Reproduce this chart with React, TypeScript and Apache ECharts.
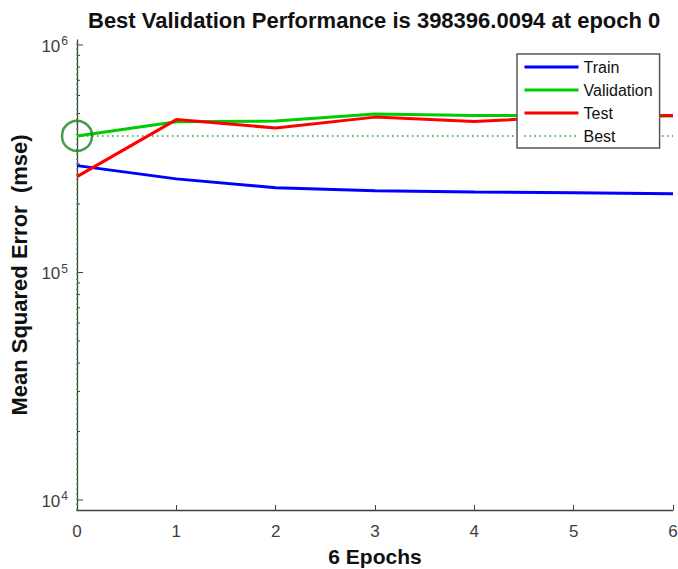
import React, { useEffect, useRef } from "react";
import * as echarts from "echarts";

// ---- Data ----
const epochs = [0, 1, 2, 3, 4, 5, 6];
const trainMse = [295000, 258000, 236000, 229000, 226000, 224000, 222000];
const validationMse = [398396, 460000, 463000, 498000, 490000, 490000, 488000];
const testMse = [264000, 470000, 432000, 482000, 461000, 485000, 490000];
const bestEpoch = 0;
const bestPerf = 398396.0094;

// ---- Axis ticks ----
const xTickInterval = 1;
const xMin = 0;
const xMax = 6;
const yMin = 9040;
const yMax = 1052000;
const yDecades = [1e4, 1e5, 1e6];
const yMinorMultipliers = [2, 3, 4, 5, 6, 7, 8, 9];

const FONT = "'Liberation Sans', Arial, Helvetica, sans-serif";
const AXIS_COLOR = "#404040";

export default function App() {
  const ref = useRef<HTMLDivElement>(null);

  useEffect(() => {
    if (!ref.current) return;
    const chart = echarts.init(ref.current, undefined, { renderer: "svg" });

    const tickData: number[][] = [];
    yDecades.forEach((d, i) => {
      tickData.push([xMin, d, 1]);
      if (i < yDecades.length - 1) {
        yMinorMultipliers.forEach((m) => tickData.push([xMin, d * m, 0]));
      }
    });

    const toPairs = (arr: number[]) => epochs.map((e, i) => [e, arr[i]]);

    const option: any = {
      animation: false,
      backgroundColor: "#ffffff",
      title: {
        text: "Best Validation Performance is 398396.0094 at epoch 0",
        left: 84,
        top: 4,
        padding: [5, 4, 5, 4],
        textStyle: {
          fontFamily: FONT,
          fontSize: 22,
          fontWeight: "bold",
          color: "#111111",
        },
      },
      grid: {
        left: 77,
        right: 5,
        top: 40,
        bottom: 59,
        containLabel: false,
        outerBoundsMode: "none",
      },
      legend: {
        data: [
          { name: "Train", lineStyle: { width: 3 } },
          { name: "Validation", lineStyle: { width: 3 } },
          { name: "Test", lineStyle: { width: 3 } },
          { name: "Best", lineStyle: { width: 1.5 } },
        ],
        orient: "vertical",
        left: 517,
        top: 54,
        padding: [5, 7, 4, 6],
        itemWidth: 54,
        itemHeight: 16,
        itemGap: 7,
        selectedMode: false,
        backgroundColor: "#ffffff",
        borderColor: "#555555",
        borderWidth: 1.5,
        itemStyle: {
          color: "rgba(0,0,0,0)",
          borderColor: "rgba(0,0,0,0)",
          borderWidth: 0,
          opacity: 0,
        },
        textStyle: { fontFamily: FONT, fontSize: 16, color: "#111111" },
        z: 10,
      },
      xAxis: {
        type: "value",
        min: xMin,
        max: xMax,
        interval: xTickInterval,
        name: "6 Epochs",
        nameLocation: "middle",
        nameGap: 36,
        nameTextStyle: {
          fontFamily: FONT,
          fontSize: 21,
          fontWeight: "bold",
          color: "#111111",
        },
        axisLine: { show: true, lineStyle: { color: AXIS_COLOR, width: 1.3 } },
        axisTick: { show: true, inside: true, length: 5, lineStyle: { color: AXIS_COLOR } },
        axisLabel: {
          margin: 13,
          fontFamily: FONT,
          fontSize: 17,
          color: "#404040",
        },
        splitLine: { show: false },
      },
      yAxis: {
        type: "log",
        logBase: 10,
        min: yMin,
        max: yMax,
        name: "Mean Squared Error  (mse)",
        nameLocation: "middle",
        nameGap: 44,
        nameTextStyle: {
          fontFamily: FONT,
          fontSize: 22,
          fontWeight: "bold",
          color: "#111111",
        },
        axisLine: { show: true, lineStyle: { color: AXIS_COLOR, width: 1.3 } },
        axisTick: { show: false },
        splitLine: { show: false },
        axisLabel: {
          margin: 9,
          color: "#404040",
          fontFamily: FONT,
          formatter: (v: number) => {
            const e = Math.log10(v);
            if (Math.abs(e - Math.round(e)) < 1e-6) {
              return `{b|10}{s|${Math.round(e)}}`;
            }
            return "";
          },
          rich: {
            b: { fontFamily: FONT, fontSize: 17, color: "#404040", padding: [2, 0, 0, 0] },
            s: { fontFamily: FONT, fontSize: 12, color: "#404040", padding: [0, 0, 8, 1] },
          },
        },
      },
      series: [
        {
          type: "custom",
          name: "yTicks",
          silent: true,
          clip: false,
          z: 3,
          encode: { x: 0, y: 1 },
          data: tickData,
          renderItem: (params: any, api: any) => {
            const v = api.value(1);
            const major = api.value(2) === 1;
            const p = api.coord([xMin, v]);
            const len = major ? 6 : 3;
            return {
              type: "line",
              shape: { x1: p[0], y1: p[1], x2: p[0] + len, y2: p[1] },
              style: { stroke: AXIS_COLOR, lineWidth: 1 },
            };
          },
        },
        {
          type: "line",
          name: "Train",
          data: toPairs(trainMse),
          symbol: "none",
          color: "#0000ff",
          lineStyle: { color: "#0000ff", width: 3 },
          z: 4,
        },
        {
          type: "line",
          name: "Validation",
          data: toPairs(validationMse),
          symbol: "none",
          color: "#00cc00",
          lineStyle: { color: "#00cc00", width: 3 },
          z: 4,
        },
        {
          type: "line",
          name: "Test",
          data: toPairs(testMse),
          symbol: "none",
          color: "#ff0000",
          lineStyle: { color: "#ff0000", width: 3 },
          z: 4,
        },
        {
          type: "line",
          name: "Best",
          data: [
            [xMin, bestPerf],
            [xMax, bestPerf],
          ],
          symbol: "none",
          color: "#2e9a2e",
          lineStyle: { color: "#2e9a2e", width: 1.5, type: [1.5, 3.5] },
          z: 3,
          markLine: {
            silent: true,
            symbol: ["none", "none"],
            label: { show: false },
            lineStyle: { color: "#2e9a2e", width: 1.5, type: [1.5, 3.5] },
            data: [{ xAxis: bestEpoch }],
          },
        },
        {
          type: "scatter",
          name: "BestPoint",
          data: [[bestEpoch, bestPerf]],
          symbol: "circle",
          symbolSize: 30,
          clip: false,
          silent: true,
          z: 5,
          itemStyle: {
            color: "rgba(0,0,0,0)",
            borderColor: "#1c7f1c",
            borderWidth: 2.5,
          },
        },
      ],
    };

    chart.setOption(option);
    return () => {
      chart.dispose();
    };
  }, []);

  return (
    <div
      ref={ref}
      style={{
        position: "fixed",
        left: 0,
        top: 0,
        width: 678,
        height: 569,
        background: "#ffffff",
      }}
    />
  );
}
